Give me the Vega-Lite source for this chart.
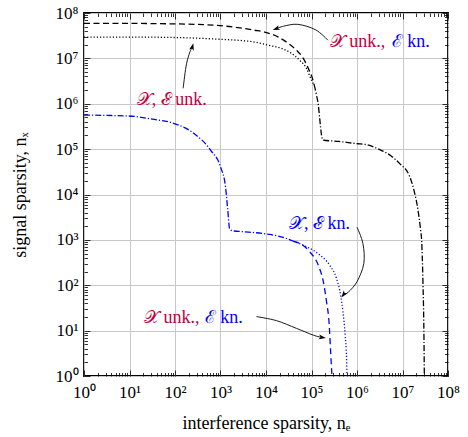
{
  "$schema": "https://vega.github.io/schema/vega-lite/v6.json",
  "width": 364,
  "height": 363,
  "autosize": {"type": "none"},
  "padding": {"left": 84, "top": 13, "right": 20, "bottom": 61},
  "config": {
    "view": {"stroke": "black", "strokeWidth": 1.8},
    "font": "Liberation Serif",
    "axis": {"domain": false, "ticks": true, "tickColor": "black", "tickWidth": 0.8, "labelFont": "Liberation Serif", "titleFont": "Liberation Serif", "labelFontSize": 17, "titleFontSize": 18, "titleFontWeight": "normal", "labelColor": "black", "titleColor": "black", "labelOverlap": false, "labelFlush": false}
  },
  "datasets": {
    "curves": [
      {"s": "kd", "x": 1, "y": 58884366}, {"s": "kd", "x": 10, "y": 58884366}, {"s": "kd", "x": 100, "y": 57543994}, {"s": "kd", "x": 1000, "y": 52480746}, {"s": "kd", "x": 3162, "y": 45708819}, {"s": "kd", "x": 5623, "y": 41686938}, {"s": "kd", "x": 9333, "y": 38018940}, {"s": "kd", "x": 18621, "y": 29512092}, {"s": "kd", "x": 30903, "y": 21379621}, {"s": "kd", "x": 46774, "y": 15135612}, {"s": "kd", "x": 66069, "y": 10000000}, {"s": "kd", "x": 85114, "y": 6025596}, {"s": "kd", "x": 104713, "y": 3630781}, {"s": "kd", "x": 114815, "y": 2570396},
      {"s": "kt", "x": 1, "y": 29512092}, {"s": "kt", "x": 10, "y": 29512092}, {"s": "kt", "x": 100, "y": 28840315}, {"s": "kt", "x": 1000, "y": 26302680}, {"s": "kt", "x": 3162, "y": 24547089}, {"s": "kt", "x": 5623, "y": 22908677}, {"s": "kt", "x": 11220, "y": 19498446}, {"s": "kt", "x": 21878, "y": 16595869}, {"s": "kt", "x": 36308, "y": 12882496}, {"s": "kt", "x": 54954, "y": 9120108}, {"s": "kt", "x": 77625, "y": 6025596}, {"s": "kt", "x": 100000, "y": 3311311}, {"s": "kt", "x": 114815, "y": 2570396},
      {"s": "kdd", "x": 114815, "y": 2570396}, {"s": "kdd", "x": 128825, "y": 1548817}, {"s": "kdd", "x": 141254, "y": 933254}, {"s": "kdd", "x": 151356, "y": 478630}, {"s": "kdd", "x": 165959, "y": 204174}, {"s": "kdd", "x": 177828, "y": 158489}, {"s": "kdd", "x": 398107, "y": 147911}, {"s": "kdd", "x": 1000000, "y": 131826}, {"s": "kdd", "x": 1584893, "y": 125893}, {"s": "kdd", "x": 3162278, "y": 97724}, {"s": "kdd", "x": 5623413, "y": 70795}, {"s": "kdd", "x": 8709636, "y": 47863}, {"s": "kdd", "x": 14454398, "y": 24547}, {"s": "kdd", "x": 17782794, "y": 12589}, {"s": "kdd", "x": 21877616, "y": 4571}, {"s": "kdd", "x": 25118864, "y": 1585}, {"s": "kdd", "x": 26302680, "y": 1000}, {"s": "kdd", "x": 28183829, "y": 110}, {"s": "kdd", "x": 29512092, "y": 10}, {"s": "kdd", "x": 30199517, "y": 1},
      {"s": "bdd", "x": 1, "y": 562341}, {"s": "bdd", "x": 9.55, "y": 537032}, {"s": "bdd", "x": 31.6, "y": 457088}, {"s": "bdd", "x": 93.3, "y": 371535}, {"s": "bdd", "x": 257, "y": 223872}, {"s": "bdd", "x": 603, "y": 95499}, {"s": "bdd", "x": 1000, "y": 40738}, {"s": "bdd", "x": 1288, "y": 14791}, {"s": "bdd", "x": 1445, "y": 4571}, {"s": "bdd", "x": 1585, "y": 1778}, {"s": "bdd", "x": 1820, "y": 1585}, {"s": "bdd", "x": 3162, "y": 1514}, {"s": "bdd", "x": 8710, "y": 1380}, {"s": "bdd", "x": 12023, "y": 1318}, {"s": "bdd", "x": 28184, "y": 1072}, {"s": "bdd", "x": 39811, "y": 933},
      {"s": "bd", "x": 39811, "y": 933}, {"s": "bd", "x": 50119, "y": 871}, {"s": "bd", "x": 91201, "y": 550}, {"s": "bd", "x": 141254, "y": 275}, {"s": "bd", "x": 181970, "y": 120}, {"s": "bd", "x": 213796, "y": 43.7}, {"s": "bd", "x": 245471, "y": 13.2}, {"s": "bd", "x": 263027, "y": 3.47}, {"s": "bd", "x": 281838, "y": 1},
      {"s": "bt", "x": 39811, "y": 933}, {"s": "bt", "x": 77625, "y": 708}, {"s": "bt", "x": 151356, "y": 468}, {"s": "bt", "x": 251189, "y": 275}, {"s": "bt", "x": 354813, "y": 141}, {"s": "bt", "x": 436516, "y": 60.3}, {"s": "bt", "x": 489779, "y": 26.3}, {"s": "bt", "x": 549541, "y": 7.94}, {"s": "bt", "x": 588844, "y": 2.45}, {"s": "bt", "x": 602560, "y": 1}
    ],
    "arrows": [
      {"a": "a1", "i": 0, "x": 229087, "y": 25118864}, {"a": "a1", "i": 1, "x": 123027, "y": 42657952}, {"a": "a1", "i": 2, "x": 50119, "y": 56234133}, {"a": "a1", "i": 3, "x": 24547, "y": 51286138}, {"a": "a1", "i": 4, "x": 16982, "y": 45185594},
      {"a": "a2", "i": 0, "x": 151, "y": 2187762}, {"a": "a2", "i": 1, "x": 174, "y": 6456542}, {"a": "a2", "i": 2, "x": 204, "y": 12302688}, {"a": "a2", "i": 3, "x": 240, "y": 17782794},
      {"a": "a3", "i": 0, "x": 1000000, "y": 1905}, {"a": "a3", "i": 1, "x": 1348963, "y": 832}, {"a": "a3", "i": 2, "x": 1412538, "y": 302}, {"a": "a3", "i": 3, "x": 1000000, "y": 120}, {"a": "a3", "i": 4, "x": 645654, "y": 70.8}, {"a": "a3", "i": 5, "x": 512861, "y": 63.1},
      {"a": "a4", "i": 0, "x": 6166, "y": 20.4}, {"a": "a4", "i": 1, "x": 16982, "y": 16.6}, {"a": "a4", "i": 2, "x": 46774, "y": 11.2}, {"a": "a4", "i": 3, "x": 109648, "y": 7.94}, {"a": "a4", "i": 4, "x": 169824, "y": 7.08}
    ],
    "labels": [
      {"g": "unk", "t": "𝒳 unk.,", "x": 251189, "y": 22908677},
      {"g": "kn", "t": "ℰ kn.", "x": 5821032, "y": 22908677},
      {"g": "unk", "t": "𝒳, ℰ unk.", "x": 14.5, "y": 1202264},
      {"g": "kn", "t": "𝒳, ℰ kn.", "x": 32211, "y": 2239},
      {"g": "unk", "t": "𝒳 unk.,", "x": 20.7, "y": 19.05},
      {"g": "kn", "t": "ℰ kn.", "x": 452, "y": 19.05}
    ]
  },
  "layer": [
    {
      "data": {"name": "curves"},
      "mark": {"type": "line", "interpolate": "monotone", "strokeWidth": 1.3},
      "encoding": {
        "x": {"field": "x", "type": "quantitative", "scale": {"type": "log", "domain": [1, 100000000], "nice": false},
          "axis": {"orient": "bottom", "values": [1,2,3,4,5,6,7,8,9,10,20,30,40,50,60,70,80,90,100,200,300,400,500,600,700,800,900,1000,2000,3000,4000,5000,6000,7000,8000,9000,10000,20000,30000,40000,50000,60000,70000,80000,90000,100000,200000,300000,400000,500000,600000,700000,800000,900000,1000000,2000000,3000000,4000000,5000000,6000000,7000000,8000000,9000000,10000000,20000000,30000000,40000000,50000000,60000000,70000000,80000000,90000000,100000000],
            "labelExpr": "abs(log(datum.value)/LN10 - round(log(datum.value)/LN10)) < 0.001 ? '10' + ['⁰','¹','²','³','⁴','⁵','⁶','⁷','⁸'][round(log(datum.value)/LN10)] : ''",
            "grid": true, "gridColor": "#c8c8c8", "gridWidth": 1,
            "gridOpacity": {"condition": {"test": "abs(log(datum.value)/LN10 - round(log(datum.value)/LN10)) < 0.001", "value": 1}, "value": 0},
            "tickSize": {"condition": {"test": "abs(log(datum.value)/LN10 - round(log(datum.value)/LN10)) < 0.001", "value": -6}, "value": -3.5},
            "labelPadding": 14, "title": "interference sparsity, nₑ", "titlePadding": 12}},
        "y": {"field": "y", "type": "quantitative", "scale": {"type": "log", "domain": [1, 100000000], "nice": false},
          "axis": {"orient": "left", "values": [1,2,3,4,5,6,7,8,9,10,20,30,40,50,60,70,80,90,100,200,300,400,500,600,700,800,900,1000,2000,3000,4000,5000,6000,7000,8000,9000,10000,20000,30000,40000,50000,60000,70000,80000,90000,100000,200000,300000,400000,500000,600000,700000,800000,900000,1000000,2000000,3000000,4000000,5000000,6000000,7000000,8000000,9000000,10000000,20000000,30000000,40000000,50000000,60000000,70000000,80000000,90000000,100000000],
            "labelExpr": "abs(log(datum.value)/LN10 - round(log(datum.value)/LN10)) < 0.001 ? '10' + ['⁰','¹','²','³','⁴','⁵','⁶','⁷','⁸'][round(log(datum.value)/LN10)] : ''",
            "grid": true, "gridColor": "#c8c8c8", "gridWidth": 1,
            "gridOpacity": {"condition": {"test": "abs(log(datum.value)/LN10 - round(log(datum.value)/LN10)) < 0.001", "value": 1}, "value": 0},
            "tickSize": {"condition": {"test": "abs(log(datum.value)/LN10 - round(log(datum.value)/LN10)) < 0.001", "value": -6}, "value": -3.5},
            "labelPadding": 12, "title": "signal sparsity, nₓ", "titlePadding": 26}},
        "detail": {"field": "s"},
        "color": {"field": "s", "type": "nominal", "scale": {"domain": ["kd", "kt", "kdd", "bdd", "bd", "bt"], "range": ["black", "black", "black", "blue", "blue", "blue"]}, "legend": null},
        "strokeDash": {"field": "s", "type": "nominal", "scale": {"domain": ["kd", "kt", "kdd", "bdd", "bd", "bt"], "range": [[6, 3.5], [1.2, 2], [6, 2, 1.2, 2], [6, 2, 1.2, 2], [6, 4], [1.2, 2]]}, "legend": null}
      }
    },
    {
      "data": {"name": "arrows"},
      "mark": {"type": "line", "interpolate": "cardinal", "strokeWidth": 0.9, "color": "black"},
      "encoding": {
        "x": {"field": "x", "type": "quantitative", "scale": {"type": "log", "domain": [1, 100000000], "nice": false},
          "axis": {"orient": "top", "values": [1,2,3,4,5,6,7,8,9,10,20,30,40,50,60,70,80,90,100,200,300,400,500,600,700,800,900,1000,2000,3000,4000,5000,6000,7000,8000,9000,10000,20000,30000,40000,50000,60000,70000,80000,90000,100000,200000,300000,400000,500000,600000,700000,800000,900000,1000000,2000000,3000000,4000000,5000000,6000000,7000000,8000000,9000000,10000000,20000000,30000000,40000000,50000000,60000000,70000000,80000000,90000000,100000000],
            "labels": false, "grid": false, "title": null,
            "tickSize": {"condition": {"test": "abs(log(datum.value)/LN10 - round(log(datum.value)/LN10)) < 0.001", "value": -6}, "value": -3.5}}},
        "y": {"field": "y", "type": "quantitative", "scale": {"type": "log", "domain": [1, 100000000], "nice": false},
          "axis": {"orient": "right", "values": [1,2,3,4,5,6,7,8,9,10,20,30,40,50,60,70,80,90,100,200,300,400,500,600,700,800,900,1000,2000,3000,4000,5000,6000,7000,8000,9000,10000,20000,30000,40000,50000,60000,70000,80000,90000,100000,200000,300000,400000,500000,600000,700000,800000,900000,1000000,2000000,3000000,4000000,5000000,6000000,7000000,8000000,9000000,10000000,20000000,30000000,40000000,50000000,60000000,70000000,80000000,90000000,100000000],
            "labels": false, "grid": false, "title": null,
            "tickSize": {"condition": {"test": "abs(log(datum.value)/LN10 - round(log(datum.value)/LN10)) < 0.001", "value": -6}, "value": -3.5}}},
        "detail": {"field": "a"},
        "order": {"field": "i", "type": "quantitative"}
      }
    },
    {
      "data": {"name": "arrows"},
      "transform": [{"filter": "datum.a == 'a1' && datum.i == 4"}],
      "mark": {"type": "point", "shape": "M0,-1L0.6,0.8L0,0.35L-0.6,0.8Z", "filled": true, "color": "black", "size": 64, "angle": 249, "opacity": 1},
      "encoding": {"x": {"field": "x", "type": "quantitative", "axis": null}, "y": {"field": "y", "type": "quantitative", "axis": null}}
    },
    {
      "data": {"name": "arrows"},
      "transform": [{"filter": "datum.a == 'a2' && datum.i == 3"}],
      "mark": {"type": "point", "shape": "M0,-1L0.6,0.8L0,0.35L-0.6,0.8Z", "filled": true, "color": "black", "size": 64, "angle": 15, "opacity": 1},
      "encoding": {"x": {"field": "x", "type": "quantitative", "axis": null}, "y": {"field": "y", "type": "quantitative", "axis": null}}
    },
    {
      "data": {"name": "arrows"},
      "transform": [{"filter": "datum.a == 'a3' && datum.i == 5"}],
      "mark": {"type": "point", "shape": "M0,-1L0.6,0.8L0,0.35L-0.6,0.8Z", "filled": true, "color": "black", "size": 64, "angle": 217, "opacity": 1},
      "encoding": {"x": {"field": "x", "type": "quantitative", "axis": null}, "y": {"field": "y", "type": "quantitative", "axis": null}}
    },
    {
      "data": {"name": "arrows"},
      "transform": [{"filter": "datum.a == 'a4' && datum.i == 4"}],
      "mark": {"type": "point", "shape": "M0,-1L0.6,0.8L0,0.35L-0.6,0.8Z", "filled": true, "color": "black", "size": 64, "angle": 100, "opacity": 1},
      "encoding": {"x": {"field": "x", "type": "quantitative", "axis": null}, "y": {"field": "y", "type": "quantitative", "axis": null}}
    },
    {
      "data": {"name": "labels"},
      "transform": [{"filter": "datum.g == 'unk'"}],
      "mark": {"type": "text", "align": "left", "baseline": "middle", "fontSize": 18, "font": "Liberation Serif", "color": "#BF0040"},
      "encoding": {"x": {"field": "x", "type": "quantitative", "axis": null}, "y": {"field": "y", "type": "quantitative", "axis": null}, "text": {"field": "t"}}
    },
    {
      "data": {"name": "labels"},
      "transform": [{"filter": "datum.g == 'kn'"}],
      "mark": {"type": "text", "align": "left", "baseline": "middle", "fontSize": 18, "font": "Liberation Serif", "color": "blue"},
      "encoding": {"x": {"field": "x", "type": "quantitative", "axis": null}, "y": {"field": "y", "type": "quantitative", "axis": null}, "text": {"field": "t"}}
    }
  ]
}
